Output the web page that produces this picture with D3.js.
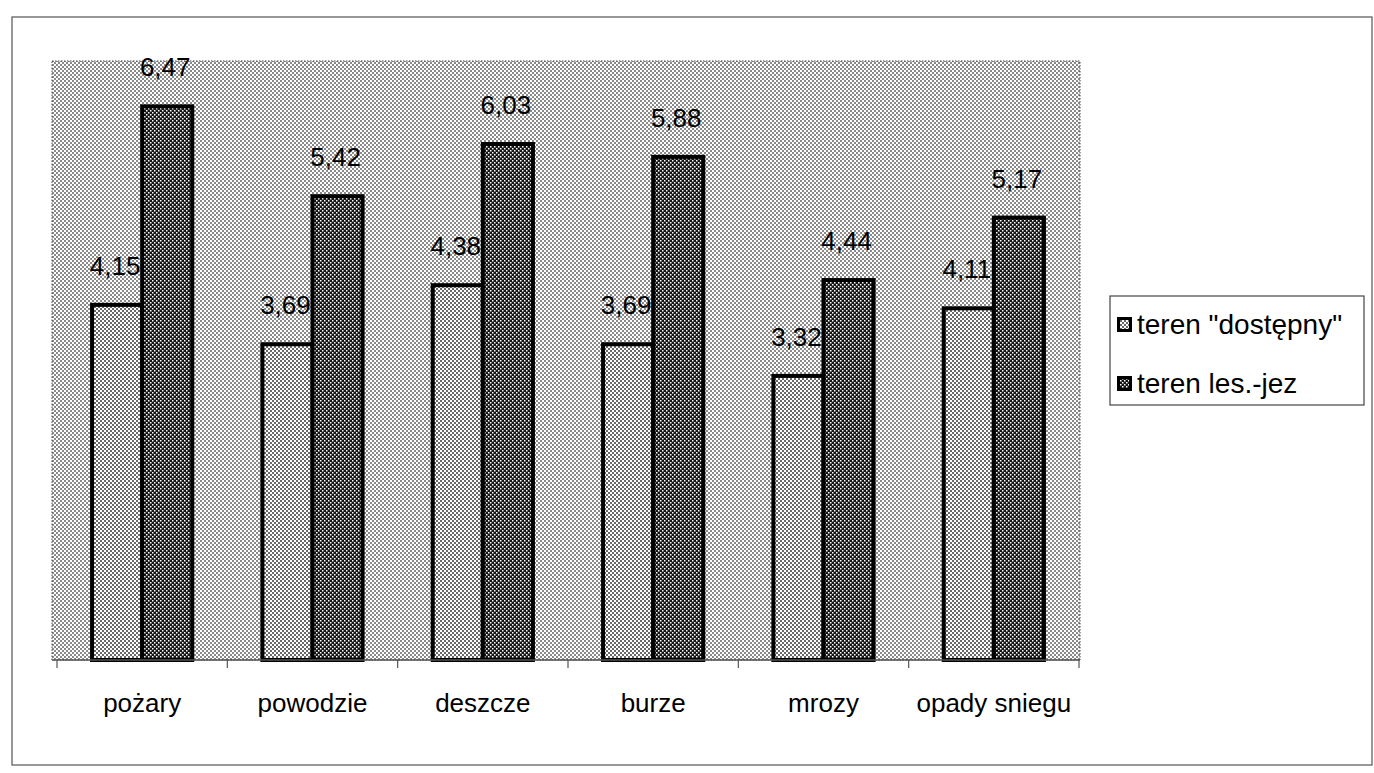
<!DOCTYPE html>
<html><head><meta charset="utf-8">
<script src="https://cdn.jsdelivr.net/npm/d3@7"></script>
<style>html,body{margin:0;padding:0;background:#fff;}svg{display:block;}</style>
</head><body>
<svg id="c" width="1374" height="773"></svg>
<script>
const categories = ["pożary","powodzie","deszcze","burze","mrozy","opady sniegu"];
const seriesNames = ["teren \"dostępny\"","teren les.-jez"];
const dostepny = [4.15,3.69,4.38,3.69,3.32,4.11];
const lesJez = [6.47,5.42,6.03,5.88,4.44,5.17];
const yDomain = [0,7];

const svg = d3.select("#c");
const defs = svg.append("defs");
function dotPattern(id, bg, dot, s){
  const p = defs.append("pattern").attr("id",id).attr("width",4).attr("height",4).attr("patternUnits","userSpaceOnUse");
  p.append("rect").attr("width",4).attr("height",4).attr("fill",bg);
  p.append("rect").attr("x",0).attr("y",0).attr("width",s).attr("height",s).attr("fill",dot);
  p.append("rect").attr("x",2).attr("y",2).attr("width",s).attr("height",s).attr("fill",dot);
}
dotPattern("bgPat","#fff","#8a8a8a",2);
dotPattern("lightPat","#fff","#6a6a6a",2);
dotPattern("darkPat","#151515","#fff",1.5);

// outer frame
svg.append("rect").attr("x",12).attr("y",17).attr("width",1360).attr("height",748)
  .attr("fill","none").attr("stroke","#555").attr("stroke-width",1.2);

const plot = {left:52,right:1080,top:61,bottom:660};
const x = d3.scaleBand().domain(categories).range([57,1079]);
const x1 = d3.scaleBand().domain([0,1]).range([0,x.bandwidth()]).paddingInner(0).paddingOuter(0.7);
const y = d3.scaleLinear().domain(yDomain).range([plot.bottom,plot.top]);

svg.append("rect").attr("x",plot.left).attr("y",plot.top).attr("width",plot.right-plot.left).attr("height",plot.bottom-plot.top)
  .attr("fill","url(#bgPat)").attr("stroke","#444").attr("stroke-width",1).attr("stroke-dasharray","1.5,1.5");

const data = categories.map((c,i)=>({c, v:[dostepny[i], lesJez[i]]}));
const fmt = v => d3.format(".2f")(v).replace(".",",");

function drawBars(s, pat){
  svg.append("g").selectAll("rect").data(data).join("rect")
    .attr("x", d=>x(d.c)+x1(s)).attr("width", x1.bandwidth())
    .attr("y", d=>y(d.v[s])).attr("height", d=>y(0)-y(d.v[s]))
    .attr("fill","url(#"+pat+")").attr("stroke","#000").attr("stroke-width",4);
}
function drawLabels(s){
  svg.append("g").selectAll("text").data(data).join("text")
    .attr("x", d=>x(d.c)+x1(s)+x1.bandwidth()/2-2).attr("y", d=>y(d.v[s])-30)
    .attr("text-anchor","middle").attr("font-family","'Liberation Sans', Arial, sans-serif")
    .attr("font-size",26).attr("fill","#000").text(d=>fmt(d.v[s]));
}
drawBars(0,"lightPat");
drawLabels(0);
drawBars(1,"darkPat");
drawLabels(1);

// x axis
const ax = svg.append("g").attr("transform",`translate(0,${plot.bottom})`);
ax.append("line").attr("x1",plot.left).attr("x2",plot.right).attr("stroke","#555").attr("stroke-width",1.5);
const bounds = categories.map(c=>x(c)).concat([x.range()[1]]);
ax.selectAll("line.t").data(bounds).join("line").attr("class","t")
  .attr("x1",d=>d).attr("x2",d=>d).attr("y1",0).attr("y2",8).attr("stroke","#555").attr("stroke-width",1.2);
ax.selectAll("text").data(categories).join("text")
  .attr("x",d=>x(d)+x.bandwidth()/2).attr("y",52)
  .attr("text-anchor","middle").attr("font-family","'Liberation Sans', Arial, sans-serif")
  .attr("font-size",26).attr("fill","#000").text(d=>d);

// legend
const lg = svg.append("g");
lg.append("rect").attr("x",1110).attr("y",296).attr("width",254).attr("height",109)
  .attr("fill","#fff").attr("stroke","#444").attr("stroke-width",1.2);
const pats = ["lightPat","darkPat"];
seriesNames.forEach((n,i)=>{
  const yy = 317 + i*59;
  lg.append("rect").attr("x",1117).attr("y",yy).attr("width",15).attr("height",15).attr("fill","#000");
  lg.append("rect").attr("x",1120).attr("y",yy+3).attr("width",9).attr("height",9).attr("fill","url(#"+pats[i]+")");
  lg.append("text").attr("x",1137).attr("y",yy+17).attr("font-family","'Liberation Sans', Arial, sans-serif")
    .attr("font-size",28).attr("fill","#000").text(n);
});
</script>
</body></html>
